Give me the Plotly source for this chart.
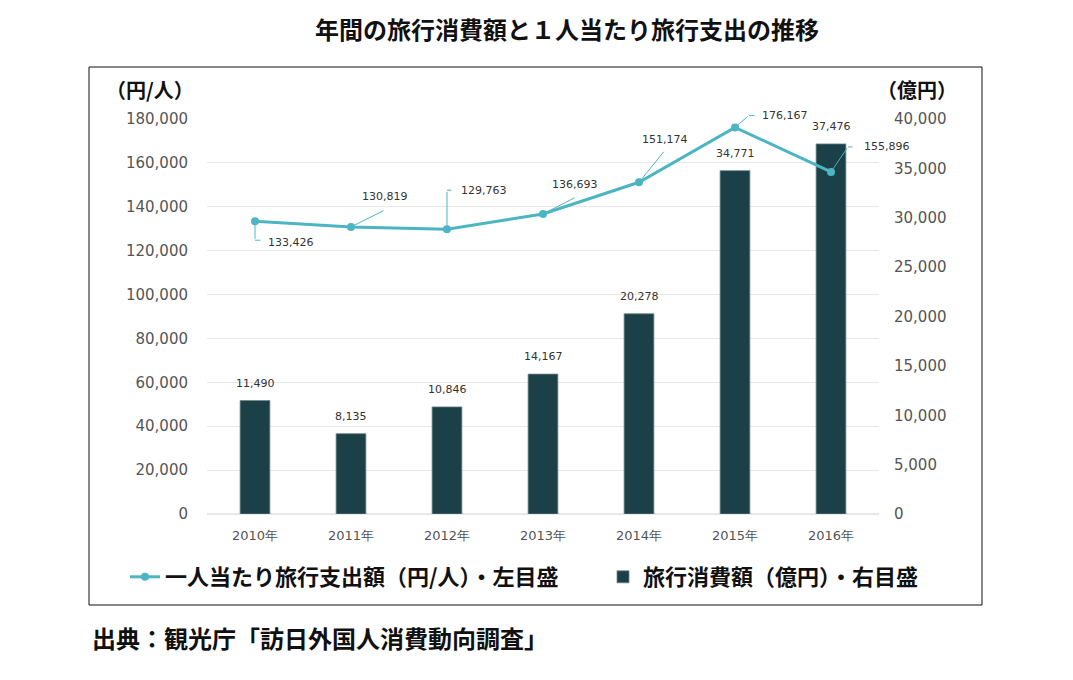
import plotly.graph_objects as go

years = ["2010年", "2011年", "2012年", "2013年", "2014年", "2015年", "2016年"]
spend_per_person = [133426, 130819, 129763, 136693, 151174, 176167, 155896]
total_consumption = [11490, 8135, 10846, 14167, 20278, 34771, 37476]

left_ticks = [0, 20000, 40000, 60000, 80000, 100000, 120000, 140000, 160000, 180000]
right_ticks = [0, 5000, 10000, 15000, 20000, 25000, 30000, 35000, 40000]

title_text = "年間の旅行消費額と１人当たり旅行支出の推移"
source_text = "出典：観光庁「訪日外国人消費動向調査」"
line_name = "一人当たり旅行支出額（円/人）・左目盛"
bar_name = "旅行消費額（億円）・右目盛"

LINE_COLOR = "#4bb5c3"
BAR_COLOR = "#1b4048"
NUM_FONT = "DejaVu Sans"
JP_FONT = "Noto Sans CJK JP"

W, H = 1073, 680
L, R, T, B = 207, 194, 119, 166
PW, PH = W - L - R, H - T - B


def px(xp):
    return (xp - L) / PW


def py(yp):
    return (H - B - yp) / PH


fig = go.Figure()

# bars on the base axis (right side), line on the overlaying axis (left side) so it is drawn on top
fig.add_trace(go.Bar(
    x=years, y=total_consumption, name=bar_name, yaxis="y", legend="legend2",
    marker=dict(color=BAR_COLOR, line=dict(color="#6d8589", width=0.8)),
    width=0.31, hoverinfo="skip",
))

fig.add_trace(go.Scatter(
    x=years, y=spend_per_person, name=line_name, mode="lines+markers",
    yaxis="y2", legend="legend",
    line=dict(color=LINE_COLOR, width=3),
    marker=dict(color=LINE_COLOR, size=8),
    hoverinfo="skip",
))

annotations = []

# bar value labels
for xv, yv in zip(years, total_consumption):
    annotations.append(dict(
        x=xv, y=yv, xref="x", yref="y", text=f"{yv:,}", showarrow=False,
        yanchor="bottom", yshift=9,
        font=dict(family=NUM_FONT, size=11, color="#333333"),
    ))

# line value label offsets (leader lines): (ax, ay, tail_len, text_anchor, text_dx, text_dy)
label_layout = [
    (0, 19, 7, "left", 11, -21),
    (34, -17, 0, "center", 34, 30),
    (0, -39, 6, "left", 12, 39),
    (33, -17, 0, "center", 32, 30),
    (26, -32, 0, "center", 26, 43),
    (14, -12, 7, "left", 25, 12),
    (17, -25, 6, "left", 31, 25),
]
for xv, yv, (ax, ay, tl, anc, tdx, tdy) in zip(years, spend_per_person, label_layout):
    annotations.append(dict(
        x=xv, y=yv, xref="x", yref="y2", text="", showarrow=True,
        ax=ax, ay=ay, arrowhead=0, arrowwidth=1, arrowcolor=LINE_COLOR, standoff=0,
    ))
    if tl:
        annotations.append(dict(
            x=xv, y=yv, xref="x", yref="y2", text="", showarrow=True,
            xshift=ax, yshift=-ay, ax=tl, ay=0, arrowhead=0, arrowwidth=1,
            arrowcolor=LINE_COLOR, standoff=0,
        ))
    annotations.append(dict(
        x=xv, y=yv, xref="x", yref="y2", text=f"{yv:,}", showarrow=False,
        xanchor=anc, yanchor="middle", xshift=tdx, yshift=tdy,
        font=dict(family=NUM_FONT, size=11, color="#333333"),
    ))

# title, axis titles, source
annotations += [
    dict(x=px(567), y=py(28), xref="paper", yref="paper", text=title_text,
         showarrow=False, xanchor="center", yanchor="middle",
         font=dict(family=JP_FONT, size=24, color="#111111", weight="bold")),
    dict(x=px(150), y=py(89), xref="paper", yref="paper", text="（円/人）",
         showarrow=False, xanchor="center", yanchor="middle",
         font=dict(family=JP_FONT, size=20, color="#111111", weight="bold")),
    dict(x=px(917), y=py(89), xref="paper", yref="paper", text="（億円）",
         showarrow=False, xanchor="center", yanchor="middle",
         font=dict(family=JP_FONT, size=20, color="#111111", weight="bold")),
    dict(x=px(90), y=py(637), xref="paper", yref="paper", text=source_text,
         showarrow=False, xanchor="left", yanchor="middle",
         font=dict(family=JP_FONT, size=24, color="#111111", weight="bold")),
]

legend_font = dict(family=JP_FONT, size=22, color="#111111", weight="bold")

fig.update_layout(
    width=W, height=H,
    margin=dict(l=L, r=R, t=T, b=B, pad=0),
    paper_bgcolor="white", plot_bgcolor="white",
    showlegend=True,
    legend=dict(
        orientation="h", x=px(125), y=py(577), xanchor="left", yanchor="middle",
        font=legend_font, bgcolor="rgba(0,0,0,0)",
    ),
    legend2=dict(
        orientation="h", x=px(603), y=py(577), xanchor="left", yanchor="middle",
        font=legend_font, bgcolor="rgba(0,0,0,0)",
    ),
    xaxis=dict(
        type="category", range=[-0.5, 6.5], showgrid=False, showline=False,
        ticks="", tickfont=dict(family=NUM_FONT, size=13, color="#555555"),
        ticklabelstandoff=12,
    ),
    yaxis=dict(
        range=[0, 40000], tickvals=right_ticks,
        ticktext=[f"{v:,}" for v in right_ticks],
        side="right", showgrid=False, zeroline=False,
        showline=False, ticks="",
        tickfont=dict(family=NUM_FONT, size=15, color="#555555"),
        ticklabelstandoff=14,
    ),
    yaxis2=dict(
        range=[0, 180000], tickvals=left_ticks,
        ticktext=[f"{v:,}" for v in left_ticks],
        overlaying="y", side="left",
        showgrid=True, gridcolor="#e8e8e8", gridwidth=1,
        zeroline=True, zerolinecolor="#e8e8e8", showline=False, ticks="",
        tickfont=dict(family=NUM_FONT, size=15, color="#555555"),
        ticklabelstandoff=18,
    ),
    annotations=annotations,
    shapes=[dict(type="rect", xref="paper", yref="paper",
                 x0=px(89), x1=px(982), y0=py(605), y1=py(67),
                 line=dict(color="#111111", width=1), fillcolor="rgba(0,0,0,0)")],
)

fig.write_html("out.html", config={"displayModeBar": False},
               post_script="document.body.style.margin='0px';")
